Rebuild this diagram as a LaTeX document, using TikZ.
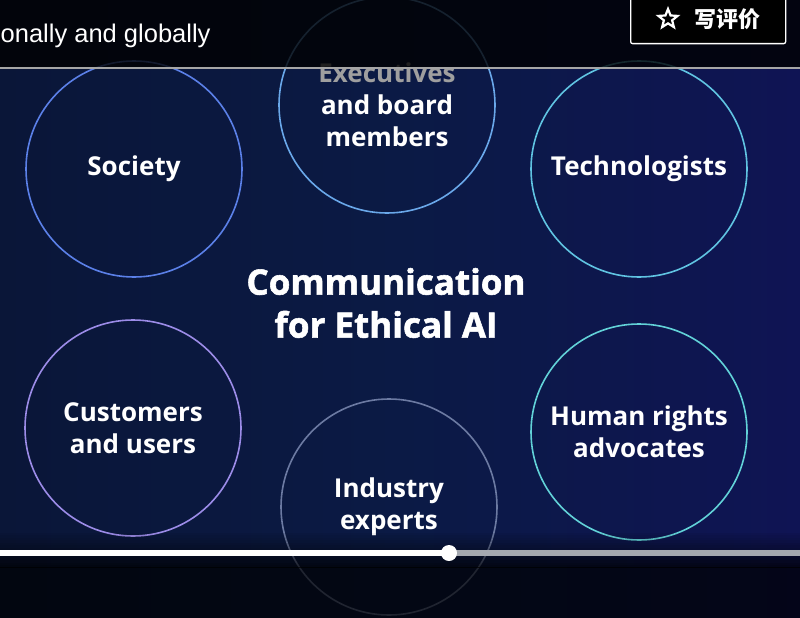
\documentclass[tikz,border=0pt]{standalone}
\usepackage{fontspec}
\setmainfont{Open Sans}
\newfontfamily\uifont{Liberation Sans}
\newfontfamily\cjkfont{Noto Sans CJK SC}
\newfontfamily\heavyfont[FakeBold=1.6]{Open Sans Bold}
\usetikzlibrary{shapes.geometric}

\definecolor{navy}{HTML}{0B1A45}
\definecolor{navyleft}{HTML}{0A1638}
\definecolor{navyright}{HTML}{0F1454}
\definecolor{ringsoc}{HTML}{5B80E8}
\definecolor{ringexe}{HTML}{6AA8EA}
\definecolor{ringtec}{HTML}{60C4E2}
\definecolor{ringcus}{HTML}{9C8CE8}
\definecolor{ringind}{HTML}{6C7AA2}
\definecolor{ringhum}{HTML}{62D2D8}
\definecolor{barrest}{HTML}{A4A8B0}

\begin{document}
\begin{tikzpicture}[x=1pt, y=-1pt,
  ring/.style={circle, draw, line width=1.6pt, minimum size=216pt, inner sep=0pt,
    align=center, text=white, font=\fontsize{26}{32}\selectfont\bfseries},
  title/.style={align=center, text=white, font=\heavyfont\fontsize{35}{43}\selectfont},
]
% background of the slide
\shade[left color=navyleft, right color=navyright, middle color=navy] (0,0) rectangle (800,618);
\useasboundingbox (0,0) rectangle (800,618);

% the six groups
\node[ring, draw=ringsoc] (soc) at (134,169) {Society};
\node[ring, draw=ringexe] (exe) at (387,105) {{\color{gray!75}Executives}\\and board\\members};
\node[ring, draw=ringtec] (tec) at (639,169) {Technologists};
\node[ring, draw=ringcus] (cus) at (133,428) {Customers\\and users};
\node[ring, draw=ringind] (ind) at (389,507) {Industry\\experts};
\node[ring, draw=ringhum] (hum) at (639,432) {Human rights\\advocates};

\node[title] (core) at (386,303) {Communication\\for Ethical AI};

% video player overlays
\fill[black, opacity=0.8] (0,0) rectangle (800,68);
\draw[gray!70, line width=2.5pt] (0,68) -- (800,68);
\foreach \i in {0,...,14}
  \fill[black, opacity=\i*0.05] (0,530+\i*2.5) rectangle (800,532.5+\i*2.5);
\fill[black, opacity=0.7] (0,567) rectangle (800,618);

\node[anchor=west, text=white, font=\uifont\fontsize{25.5}{25.5}\selectfont, inner sep=0pt] (line) at (0.5,36) {onally and globally};

\node[draw=white, line width=1.3pt, rounded corners=2pt, fill=black, minimum width=155pt,
  minimum height=46pt, anchor=north west] (btn) at (630,-3) {};
\node[star, star points=5, star point ratio=2.3, draw=white, line width=2.2pt, minimum size=20pt,
  inner sep=0pt] (fav) at (668,19) {};
\node[text=white, font=\cjkfont\bfseries\fontsize{22}{22}\selectfont] (rev) at (727,19) {写评价};

% progress bar
\draw[barrest, line width=6pt] (449,553) -- (800,553);
\draw[white, line width=6pt] (0,553) -- (449,553);
\node[circle, fill=white, minimum size=16pt, inner sep=0pt] (knob) at (449,553) {};
\end{tikzpicture}
\end{document}
